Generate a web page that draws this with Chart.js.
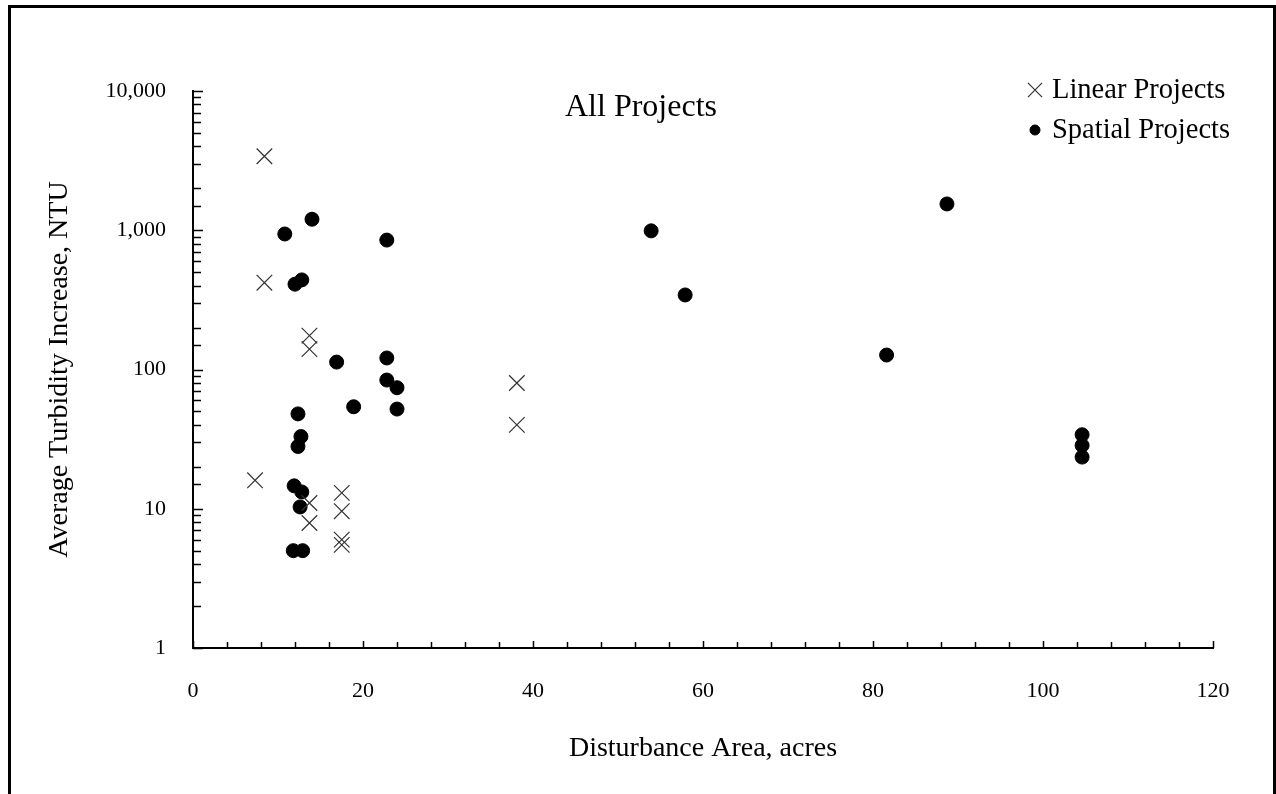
<!DOCTYPE html>
<html>
<head>
<meta charset="utf-8">
<script src="https://cdn.jsdelivr.net/npm/chart.js@4.4.1/dist/chart.umd.min.js"></script>
<style>
  html, body { margin: 0; padding: 0; background: #fff; }
  #frame { position: absolute; left: 8px; top: 5px; width: 1268px; height: 800px; box-sizing: border-box; border: 3px solid #000; }
  #wrap { position: absolute; left: 0; top: 0; width: 1276px; height: 794px; }
</style>
</head>
<body>
<div id="frame"></div>
<div id="wrap"><canvas id="c" width="1276" height="794"></canvas></div>
<script>
// ---- data ----
const chartTitle = "All Projects";
const xAxisTitle = "Disturbance Area, acres";
const yAxisTitle = "Average Turbidity Increase, NTU";
const seriesNames = ["Linear Projects", "Spatial Projects"];

const linearX = [8.4, 8.4, 13.7, 13.7, 7.3, 13.7, 13.7, 17.5, 17.5, 17.5, 17.5, 38.1, 38.1];
const linearY = [3400, 420, 175, 140, 16, 11, 7.9, 13, 9.6, 6.0, 5.5, 80, 40];

const spatialX = [14.0, 10.8, 22.8, 12.0, 12.8, 16.9, 22.8, 22.8, 24.0, 18.9, 24.0, 12.35, 12.7, 12.35, 11.9, 12.8, 12.6, 11.8, 12.9, 53.9, 57.9, 81.6, 88.7, 104.6, 104.6, 104.6];
const spatialY = [1200, 940, 850, 410, 440, 113, 121, 84, 74, 54, 52, 48, 33, 28, 14.6, 13.2, 10.3, 5.0, 5.0, 990, 343, 127, 1545, 34, 28.5, 23.5];

const xMin = 0, xMax = 120, xLabelStep = 20, xMinorStep = 4;
const yMin = 1, yMax = 10000;

// ---- helpers ----
const pts = (xs, ys) => xs.map((x, i) => ({ x: x, y: ys[i] }));
const serif = "'Liberation Serif', 'DejaVu Serif', serif";

const innerTicks = {
  id: 'innerTicks',
  afterDraw(chart) {
    const ctx = chart.ctx;
    const xs = chart.scales.x, ys = chart.scales.y;
    const area = chart.chartArea;
    ctx.save();
    ctx.strokeStyle = '#000';
    ctx.lineWidth = 1.5;
    ctx.beginPath();
    xs.ticks.forEach(t => {
      const px = Math.round(xs.getPixelForValue(t.value)) + 0.5;
      const len = (t.value % xLabelStep === 0) ? 7 : 6;
      ctx.moveTo(px, area.bottom);
      ctx.lineTo(px, area.bottom - len);
    });
    ys.ticks.forEach(t => {
      const py = Math.round(ys.getPixelForValue(t.value)) + 0.5;
      const major = Math.abs(Math.log10(t.value) - Math.round(Math.log10(t.value))) < 1e-9;
      const len = major ? 10 : 8;
      ctx.moveTo(area.left, py);
      ctx.lineTo(area.left + len, py);
    });
    ctx.stroke();
    ctx.restore();
  }
};

const insideText = {
  id: 'insideText',
  afterDraw(chart) {
    const ctx = chart.ctx;
    const area = chart.chartArea;
    ctx.save();
    ctx.fillStyle = '#000';
    ctx.textBaseline = 'middle';
    // title
    ctx.font = "32px " + serif;
    ctx.textAlign = 'center';
    ctx.fillText(chartTitle, chart.width / 2 + 3, area.top + 17);
    // legend
    ctx.font = "28.5px " + serif;
    ctx.textAlign = 'left';
    chart.data.datasets.forEach((ds, i) => {
      const cy = area.top - 1 + i * 40;
      const mx = area.right - 178;
      const style = i === 0
        ? { pointStyle: 'crossRot', radius: 10, borderWidth: 1.2 }
        : { pointStyle: 'circle', radius: 5, borderWidth: 1 };
      ctx.strokeStyle = ds.borderColor;
      ctx.fillStyle = ds.backgroundColor;
      ctx.lineWidth = style.borderWidth;
      Chart.helpers.drawPoint(ctx, { pointStyle: style.pointStyle, radius: style.radius, borderWidth: style.borderWidth, rotation: 0 }, mx, cy);
      ctx.fillStyle = '#000';
      ctx.fillText(ds.label, area.right - 161, cy + 1);
    });
    ctx.restore();
  }
};

new Chart(document.getElementById('c'), {
  type: 'scatter',
  data: {
    datasets: [
      {
        label: seriesNames[0],
        data: pts(linearX, linearY),
        pointStyle: 'crossRot',
        pointRadius: 11,
        pointHoverRadius: 11,
        borderColor: '#333',
        backgroundColor: '#333',
        pointBorderWidth: 1.2
      },
      {
        label: seriesNames[1],
        data: pts(spatialX, spatialY),
        pointStyle: 'circle',
        pointRadius: 7,
        pointHoverRadius: 7,
        borderColor: '#000',
        backgroundColor: '#000',
        pointBorderWidth: 1
      }
    ]
  },
  options: {
    responsive: false,
    animation: false,
    events: [],
    layout: { padding: { left: 0, right: 63, top: 91, bottom: 0 } },
    plugins: {
      legend: { display: false },
      title: { display: false },
      tooltip: { enabled: false }
    },
    scales: {
      x: {
        type: 'linear',
        min: xMin, max: xMax,
        afterFit(s) { s.height = 146; },
        grid: { display: false, drawTicks: false },
        border: { display: true, color: '#000', width: 2 },
        ticks: {
          stepSize: xMinorStep,
          autoSkip: false,
          maxRotation: 0,
          padding: 30,
          color: '#000',
          font: { family: serif, size: 22 },
          callback: v => (v % xLabelStep === 0 ? String(v) : '')
        },
        title: {
          display: true,
          text: xAxisTitle,
          color: '#000',
          font: { family: serif, size: 28 },
          padding: { top: 29, bottom: 29 }
        }
      },
      y: {
        type: 'logarithmic',
        min: yMin, max: yMax,
        afterFit(s) { s.width = 193; },
        grid: { display: false, drawTicks: false },
        border: { display: true, color: '#000', width: 2 },
        ticks: {
          autoSkip: false,
          padding: 27,
          color: '#000',
          font: { family: serif, size: 22 },
          callback: v => {
            const l = Math.log10(v);
            return Math.abs(l - Math.round(l)) < 1e-9 ? Number(v).toLocaleString('en-US') : '';
          }
        },
        title: {
          display: true,
          text: yAxisTitle,
          color: '#000',
          font: { family: serif, size: 28 },
          padding: { top: 43, bottom: 43 }
        }
      }
    }
  },
  plugins: [innerTicks, insideText]
});
</script>
</body>
</html>
